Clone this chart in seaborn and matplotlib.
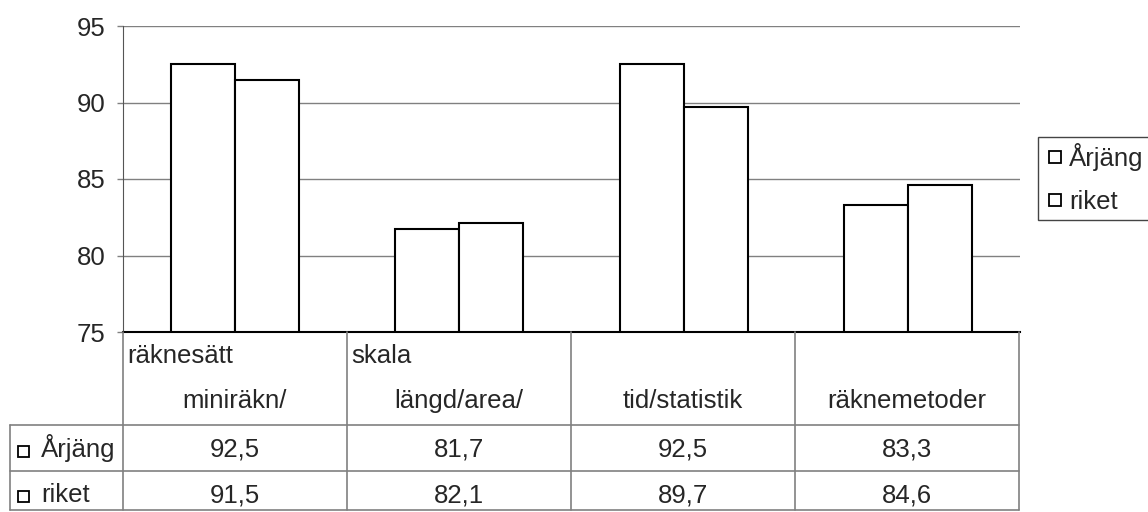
import matplotlib
matplotlib.use("Agg")
import matplotlib.pyplot as plt
from matplotlib.patches import Rectangle
from matplotlib.lines import Line2D
import seaborn as sns
import pandas as pd

# data
cat_top = ['räknesätt', 'skala', '', '']
cat_bottom = ['miniräkn/', 'längd/area/', 'tid/statistik', 'räknemetoder']
series = ['Årjäng', 'riket']
arjang = [92.5, 81.7, 92.5, 83.3]
riket = [91.5, 82.1, 89.7, 84.6]
yticks = [75, 80, 85, 90, 95]

df = pd.DataFrame({
    'kat': cat_bottom * 2,
    'serie': [series[0]] * 4 + [series[1]] * 4,
    'varde': arjang + riket,
})

sns.set_style('white')
plt.rcParams['font.family'] = ['Liberation Sans', 'DejaVu Sans']

W, H = 1148, 512
FS = 18.5
GRID = '#808080'

def fx(px):
    return px / W

def fy(py):
    return 1 - py / H

fig = plt.figure(figsize=(W / 100, H / 100), dpi=100)
ax = fig.add_axes([fx(123), fy(332), fx(1020) - fx(123), fy(26) - fy(332)])

sns.barplot(data=df, x='kat', y='varde', hue='serie', palette=['white', 'white'],
            edgecolor='black', linewidth=1.5, width=0.57, legend=False, ax=ax, zorder=3)

ax.set_ylim(75, 95)
ax.set_xlim(-0.5, len(cat_bottom) - 0.5)
ax.set_yticks(yticks)
ax.set_yticklabels([str(t) for t in yticks], fontsize=FS)
ax.set_xticks([])
ax.set_xlabel('')
ax.set_ylabel('')
for t in yticks[1:]:
    ax.axhline(t, color=GRID, lw=1, zorder=1)
ax.tick_params(axis='y', length=4.5, width=1, color=GRID, pad=8, left=True)
for s in ['top', 'right']:
    ax.spines[s].set_visible(False)
ax.spines['left'].set_color('#555555')
ax.spines['bottom'].set_color('black')
ax.spines['bottom'].set_linewidth(1.5)
ax.spines['bottom'].set_zorder(5)

# data table under the chart
def hline(py, x0, x1):
    fig.add_artist(Line2D([fx(x0), fx(x1)], [fy(py), fy(py)], color=GRID, lw=1.2))

def vline(px, y0, y1):
    fig.add_artist(Line2D([fx(px), fx(px)], [fy(y0), fy(y1)], color=GRID, lw=1.2))

col_left, col_w = 123, 224
n = len(cat_bottom)
for i in range(n + 1):
    vline(col_left + i * col_w, 332, 510)
vline(10, 425, 510)
for py in [425, 471, 510]:
    hline(py, 10, col_left + n * col_w)

row_base = [457, 502]
for i in range(n):
    x0 = col_left + i * col_w
    xc = x0 + col_w / 2
    fig.text(fx(x0 + 4), fy(363), cat_top[i], fontsize=FS, ha='left', va='baseline')
    fig.text(fx(xc), fy(408), cat_bottom[i], fontsize=FS, ha='center', va='baseline')
    fig.text(fx(xc), fy(row_base[0]), f'{arjang[i]:.1f}'.replace('.', ','), fontsize=FS,
             ha='center', va='baseline')
    fig.text(fx(xc), fy(row_base[1]), f'{riket[i]:.1f}'.replace('.', ','), fontsize=FS,
             ha='center', va='baseline')

for name, py in zip(series, row_base):
    fig.add_artist(Rectangle((fx(18), fy(py)), fx(11), 11 / H,
                             facecolor='white', edgecolor='black', lw=1.3))
    fig.text(fx(41), fy(py), name, fontsize=FS, ha='left', va='baseline')

# legend
handles = [Line2D([], [], ls='none', marker='s', markersize=8, markerfacecolor='white',
                  markeredgecolor='black', markeredgewidth=1.3) for _ in series]
leg = fig.legend(handles, series, loc='upper left', bbox_to_anchor=(fx(1038), fy(137)),
                 borderaxespad=0, fancybox=False, edgecolor='#444444', fontsize=FS,
                 handlelength=0.84, handletextpad=0.12,
                 labelspacing=0.72, borderpad=0.25, framealpha=1)
leg.get_frame().set_linewidth(1)

fig.savefig('out.png', dpi=100)
